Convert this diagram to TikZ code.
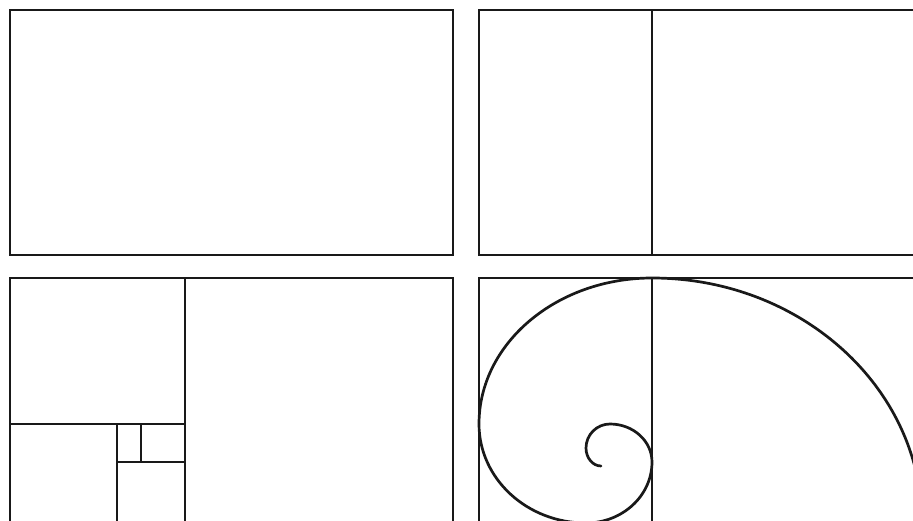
\documentclass[tikz,border=0pt]{standalone}
\begin{document}
\begin{tikzpicture}[x=1pt,y=1pt,
  frame/.style={line width=2.6pt,draw=black!90,line join=miter},
  spiral/.style={line width=2.7pt,draw=black!90,line cap=round}]
\useasboundingbox (0,0) rectangle (913,520);
\clip (0,0) rectangle (913,520);
% top left
\draw[frame] (10,510) rectangle (453,265);
% top right
\draw[frame] (479,510) rectangle (922,265);
\draw[frame] (652,510) -- (652,265);
% bottom left
\draw[frame] (10,242) rectangle (453,-3);
\draw[frame] (185,242) -- (185,-3);
\draw[frame] (10,96) -- (185,96);
\draw[frame] (117,96) -- (117,-3);
\draw[frame] (117,58) -- (185,58);
\draw[frame] (141,96) -- (141,58);
% bottom right
\draw[frame] (479,242) rectangle (922,-3);
\draw[frame] (652,242) -- (652,-3);
\draw[spiral] (922,-3)
  arc[start angle=0,end angle=90,x radius=270,y radius=245]
  arc[start angle=90,end angle=180,x radius=173,y radius=146]
  arc[start angle=180,end angle=270,x radius=107,y radius=99]
  arc[start angle=270,end angle=360,x radius=66,y radius=61]
  arc[start angle=0,end angle=90,x radius=42,y radius=38]
  arc[start angle=90,end angle=180,x radius=24,y radius=24]
  arc[start angle=180,end angle=270,x radius=15,y radius=18];
\end{tikzpicture}
\end{document}
